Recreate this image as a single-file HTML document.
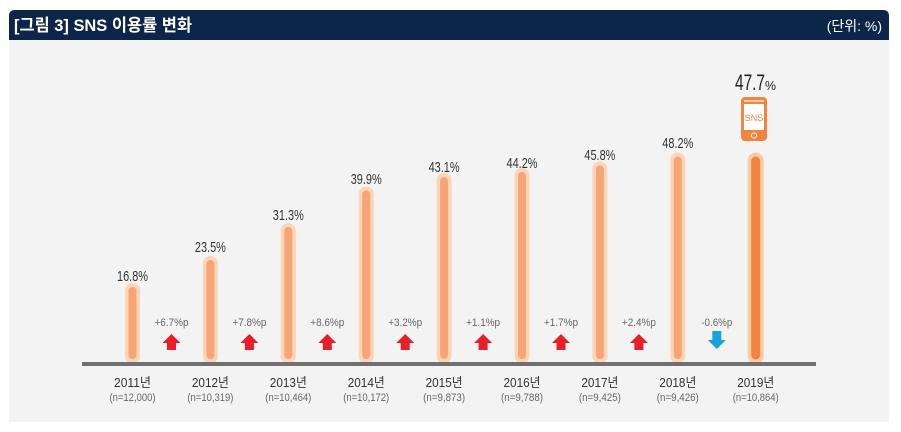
<!DOCTYPE html>
<html><head><meta charset="utf-8"><style>
html,body{margin:0;padding:0;background:#fff;}
svg{display:block;}
text{font-family:"Liberation Sans","Noto Sans CJK KR",sans-serif;}
.t{font-family:"Liberation Sans","Noto Sans CJK KR",sans-serif;}
</style></head><body>
<svg width="901" height="432" viewBox="0 0 901 432" xmlns="http://www.w3.org/2000/svg">
<rect x="9" y="40" width="880" height="382" fill="#f3f3f3"/>
<path d="M9 40 V16 Q9 10 15 10 H883 Q889 10 889 16 V40 Z" fill="#0d2548"/>
<text class="t" x="14" y="31" font-size="17" font-weight="bold" fill="#fff" textLength="178" lengthAdjust="spacingAndGlyphs">[그림 3]  SNS 이용률 변화</text>
<text class="t" x="882" y="31" font-size="14" fill="#fff" text-anchor="end">(단위: %)</text>

<!-- bars -->
<g stroke-linecap="round">
<line x1="132.5" y1="290.5" x2="132.5" y2="356" stroke="#fcd5b8" stroke-width="15"/>
<line x1="132.5" y1="291" x2="132.5" y2="355" stroke="#f6a676" stroke-width="8"/>
<line x1="210.4" y1="263.5" x2="210.4" y2="356" stroke="#fcd5b8" stroke-width="15"/>
<line x1="210.4" y1="264" x2="210.4" y2="355" stroke="#f6a676" stroke-width="8"/>
<line x1="288.3" y1="230.5" x2="288.3" y2="356" stroke="#fcd5b8" stroke-width="15"/>
<line x1="288.3" y1="231" x2="288.3" y2="355" stroke="#f6a676" stroke-width="8"/>
<line x1="366.2" y1="194" x2="366.2" y2="356" stroke="#fcd5b8" stroke-width="15"/>
<line x1="366.2" y1="194.5" x2="366.2" y2="355" stroke="#f6a676" stroke-width="8"/>
<line x1="444.1" y1="180.5" x2="444.1" y2="356" stroke="#fcd5b8" stroke-width="15"/>
<line x1="444.1" y1="181" x2="444.1" y2="355" stroke="#f6a676" stroke-width="8"/>
<line x1="522" y1="175.5" x2="522" y2="356" stroke="#fcd5b8" stroke-width="15"/>
<line x1="522" y1="176" x2="522" y2="355" stroke="#f6a676" stroke-width="8"/>
<line x1="599.9" y1="169" x2="599.9" y2="356" stroke="#fcd5b8" stroke-width="15"/>
<line x1="599.9" y1="169.5" x2="599.9" y2="355" stroke="#f6a676" stroke-width="8"/>
<line x1="677.8" y1="160" x2="677.8" y2="356" stroke="#fcd5b8" stroke-width="15"/>
<line x1="677.8" y1="160.5" x2="677.8" y2="355" stroke="#f6a676" stroke-width="8"/>
<line x1="755.7" y1="160.5" x2="755.7" y2="356" stroke="#fbc9a4" stroke-width="16"/>
<line x1="755.7" y1="161" x2="755.7" y2="355" stroke="#ef8540" stroke-width="9"/>
</g>

<!-- axis -->
<rect x="82" y="362" width="734" height="4" fill="#707070"/>

<!-- value labels -->
<g font-size="15" fill="#333" text-anchor="middle">
<text x="132.5" y="281" textLength="31" lengthAdjust="spacingAndGlyphs">16.8%</text>
<text x="210.4" y="252" textLength="31" lengthAdjust="spacingAndGlyphs">23.5%</text>
<text x="288.3" y="220" textLength="31" lengthAdjust="spacingAndGlyphs">31.3%</text>
<text x="366.2" y="184" textLength="31" lengthAdjust="spacingAndGlyphs">39.9%</text>
<text x="444.1" y="172" textLength="31" lengthAdjust="spacingAndGlyphs">43.1%</text>
<text x="522" y="168" textLength="31" lengthAdjust="spacingAndGlyphs">44.2%</text>
<text x="599.9" y="160" textLength="31" lengthAdjust="spacingAndGlyphs">45.8%</text>
<text x="677.8" y="148" textLength="31" lengthAdjust="spacingAndGlyphs">48.2%</text>
</g>
<text x="735" y="90" font-size="22" fill="#222" textLength="30" lengthAdjust="spacingAndGlyphs">47.7</text>
<text x="765" y="90" font-size="13" fill="#222" textLength="11" lengthAdjust="spacingAndGlyphs">%</text>

<!-- phone icon -->
<rect x="741" y="97" width="26" height="44" rx="4" fill="#ef8540"/>
<rect x="744" y="104" width="20" height="26" fill="#fff"/>
<rect x="744" y="100" width="20" height="2" fill="#f9c9a6"/>
<circle cx="754" cy="135.5" r="2.5" fill="none" stroke="#fff" stroke-width="1"/>
<text x="754" y="121" font-size="9" fill="#ef8540" text-anchor="middle">SNS</text>

<!-- change labels -->
<g font-size="11" fill="#666" text-anchor="middle">
<text x="171.5" y="326" textLength="34" lengthAdjust="spacingAndGlyphs">+6.7%p</text>
<text x="249.4" y="326" textLength="34" lengthAdjust="spacingAndGlyphs">+7.8%p</text>
<text x="327.3" y="326" textLength="34" lengthAdjust="spacingAndGlyphs">+8.6%p</text>
<text x="405.2" y="326" textLength="34" lengthAdjust="spacingAndGlyphs">+3.2%p</text>
<text x="483.1" y="326" textLength="34" lengthAdjust="spacingAndGlyphs">+1.1%p</text>
<text x="561" y="326" textLength="34" lengthAdjust="spacingAndGlyphs">+1.7%p</text>
<text x="638.9" y="326" textLength="34" lengthAdjust="spacingAndGlyphs">+2.4%p</text>
<text x="716.8" y="326" textLength="31" lengthAdjust="spacingAndGlyphs">-0.6%p</text>
</g>

<!-- arrows -->
<defs>
<path id="up" d="M0 -8 L9 1 L4.5 1 L4.5 8 L-4.5 8 L-4.5 1 L-9 1 Z" fill="#e5202a"/>
<path id="dn" d="M0 10 L9 1 L4.5 1 L4.5 -8 L-4.5 -8 L-4.5 1 L-9 1 Z" fill="#1aa1de"/>
</defs>
<use href="#up" x="171.5" y="342"/>
<use href="#up" x="249.4" y="342"/>
<use href="#up" x="327.3" y="342"/>
<use href="#up" x="405.2" y="342"/>
<use href="#up" x="483.1" y="342"/>
<use href="#up" x="561" y="342"/>
<use href="#up" x="638.9" y="342"/>
<use href="#dn" x="716.8" y="339"/>

<!-- year labels -->
<g text-anchor="middle">
<g font-size="13" fill="#333">
<text x="132.5" y="387" textLength="37" lengthAdjust="spacingAndGlyphs">2011년</text>
<text x="210.4" y="387" textLength="37" lengthAdjust="spacingAndGlyphs">2012년</text>
<text x="288.3" y="387" textLength="37" lengthAdjust="spacingAndGlyphs">2013년</text>
<text x="366.2" y="387" textLength="37" lengthAdjust="spacingAndGlyphs">2014년</text>
<text x="444.1" y="387" textLength="37" lengthAdjust="spacingAndGlyphs">2015년</text>
<text x="522" y="387" textLength="37" lengthAdjust="spacingAndGlyphs">2016년</text>
<text x="599.9" y="387" textLength="37" lengthAdjust="spacingAndGlyphs">2017년</text>
<text x="677.8" y="387" textLength="37" lengthAdjust="spacingAndGlyphs">2018년</text>
<text x="755.7" y="387" textLength="37" lengthAdjust="spacingAndGlyphs">2019년</text>
</g>
<g font-size="11" fill="#666">
<text x="132.5" y="401" textLength="46" lengthAdjust="spacingAndGlyphs">(n=12,000)</text>
<text x="210.4" y="401" textLength="46" lengthAdjust="spacingAndGlyphs">(n=10,319)</text>
<text x="288.3" y="401" textLength="46" lengthAdjust="spacingAndGlyphs">(n=10,464)</text>
<text x="366.2" y="401" textLength="46" lengthAdjust="spacingAndGlyphs">(n=10,172)</text>
<text x="444.1" y="401" textLength="42" lengthAdjust="spacingAndGlyphs">(n=9,873)</text>
<text x="522" y="401" textLength="42" lengthAdjust="spacingAndGlyphs">(n=9,788)</text>
<text x="599.9" y="401" textLength="42" lengthAdjust="spacingAndGlyphs">(n=9,425)</text>
<text x="677.8" y="401" textLength="42" lengthAdjust="spacingAndGlyphs">(n=9,426)</text>
<text x="755.7" y="401" textLength="46" lengthAdjust="spacingAndGlyphs">(n=10,864)</text>
</g>
</g>
</svg>
</body></html>
